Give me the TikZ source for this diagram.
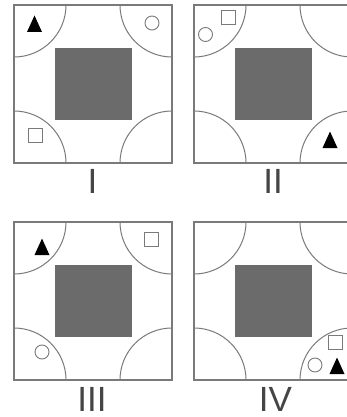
\documentclass[tikz,border=0pt]{standalone}
\usepackage{fontspec}
\setmainfont{Liberation Sans}
\definecolor{frame}{HTML}{7A7A7A}
\definecolor{fillg}{HTML}{6B6B6B}
\definecolor{labelc}{HTML}{454545}
\newcommand\mytri[2]{\fill[tri] (#1,#2) ++(-7.5,8) -- ++(15,0) -- ++(-7.5,-16.5) -- cycle;}
\newcommand\mysq[2]{\draw[sym] (#1,#2) ++(-7,-7) rectangle ++(14,14);}
\newcommand\mycirc[2]{\draw[sym] (#1,#2) circle[radius=7pt];}
\newcommand\mypanel[2]{%
  \begin{scope}[shift={(#1,#2)}]
    \begin{scope}
      \clip (0,0) rectangle (158,158);
      \draw[arcline] (0,0) circle[radius=52pt];
      \draw[arcline] (158,0) circle[radius=52pt];
      \draw[arcline] (0,158) circle[radius=52pt];
      \draw[arcline] (158,158) circle[radius=52pt];
    \end{scope}
    \fill[innerfill] (41,43) rectangle (118,115);
    \draw[frm] (0,0) rectangle (158,158);
  \end{scope}}
\begin{document}
\begin{tikzpicture}[x=1pt,y=-1pt,
  frm/.style={draw=frame,line width=1.6pt},
  arcline/.style={draw=frame,line width=1pt},
  innerfill/.style={fill=fillg},
  sym/.style={draw=frame,line width=0.9pt},
  tri/.style={fill=black},
  lbl/.style={font=\fontsize{35}{35}\selectfont,text=labelc,inner sep=0pt}]
\useasboundingbox (0,0) rectangle (346,417);
\fill[white] (0,0) rectangle (346,417);
\mypanel{14}{5}
\mypanel{194}{5}
\mypanel{14}{222}
\mypanel{194}{222}
% panel I
\mytri{34.5}{24}
\mycirc{152}{23}
\mysq{35}{135}
% panel II
\mycirc{205.5}{34.5}
\mysq{228.5}{17.5}
\mytri{330}{140}
% panel III
\mytri{42}{247}
\mysq{151.5}{239.5}
\mycirc{42}{352}
% panel IV
\mysq{335}{342}
\mycirc{315}{365}
\mytri{337}{366}
% labels
\node[lbl] (l1) at (92.5,181) {I};
\node[lbl] (l2) at (273,181) {II};
\node[lbl] (l3) at (92,399) {III};
\node[lbl] (l4) at (275.5,399) {IV};
\end{tikzpicture}
\end{document}
